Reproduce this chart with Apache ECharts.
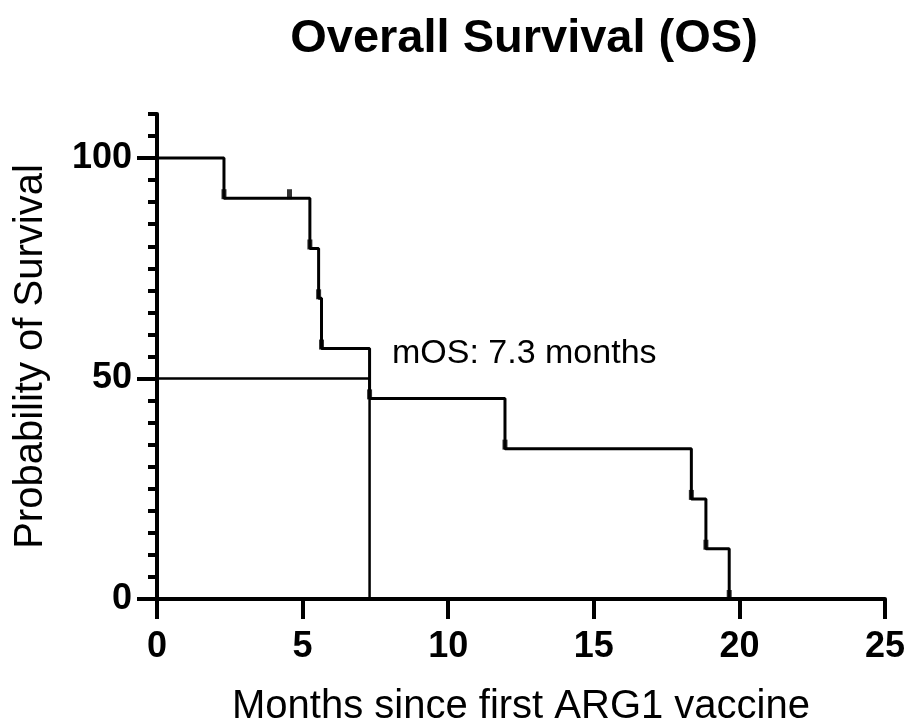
<!DOCTYPE html>
<html>
<head>
<meta charset="utf-8">
<title>Overall Survival (OS)</title>
<script src="https://cdn.jsdelivr.net/npm/echarts@6/dist/echarts.min.js"></script>
<style>
    html, body {
        margin: 0;
        padding: 0;
        background: #fff;
    }
    #chart {
        width: 912px;
        height: 726px;
    }
</style>
</head>
<body>
<div id="chart"></div>
<script>
// Kaplan-Meier steps (months, % surviving)
var stepMonths = [0, 2.3, 5.25, 5.55, 5.65, 7.3, 11.95, 18.35, 18.85, 19.65];
var stepSurvival = [100, 90.9, 79.5, 68.2, 56.8, 45.5, 34.1, 22.7, 11.4, 0];

// tick marks on the curve
var censorMonths = [2.3, 4.55, 5.25, 5.55, 5.65, 7.3, 11.95, 18.35, 18.85, 19.65];
var censorSurvival = [90.9, 90.9, 79.5, 68.2, 56.8, 45.5, 34.1, 22.7, 11.4, 0];

// median survival guide
var medianMonths = [0, 7.3, 7.3];
var medianSurvival = [50, 50, 0];

var xTicks = [0, 5, 10, 15, 20, 25];
var yMajorTicks = [0, 50, 100];

var font = "Liberation Sans, Arial, sans-serif";

function pairs(xs, ys) {
    return xs.map(function (x, i) {
        return [x, ys[i]];
    });
}

var chart = echarts.init(document.getElementById("chart"));

var option = {
    animation: false,
    title: {
        text: "Overall Survival (OS)",
        left: 519,
        top: 11,
        textAlign: "center",
        textStyle: {
            fontFamily: font,
            fontSize: 47,
            fontWeight: "bold",
            color: "#000",
        },
    },
    grid: {
        left: 157,
        right: 27,
        top: 114,
        bottom: 127,
        outerBoundsMode: "none",
    },
    xAxis: {
        type: "value",
        min: xTicks[0],
        max: xTicks[xTicks.length - 1],
        interval: 5,
        name: "Months since first ARG1 vaccine",
        nameLocation: "middle",
        nameGap: 88,
        nameTextStyle: {
            fontFamily: font,
            fontSize: 40,
            color: "#000",
        },
        axisLine: {
            lineStyle: { color: "#000", width: 4 },
        },
        axisTick: {
            length: 20,
            lineStyle: { color: "#000", width: 4 },
        },
        axisLabel: {
            margin: 30,
            fontFamily: font,
            fontSize: 36,
            fontWeight: "bold",
            color: "#000",
        },
        splitLine: { show: false },
    },
    yAxis: [
        {
            type: "value",
            min: 0,
            max: 110,
            interval: 5,
            name: "Probability of Survival",
            nameLocation: "middle",
            nameGap: 106,
            nameTextStyle: {
                fontFamily: font,
                fontSize: 40,
                color: "#000",
            },
            axisLine: {
                show: true,
                lineStyle: { color: "#000", width: 4 },
            },
            axisTick: {
                length: 9,
                lineStyle: { color: "#000", width: 4 },
            },
            axisLabel: {
                margin: 25,
                fontFamily: font,
                fontSize: 36,
                fontWeight: "bold",
                color: "#000",
                formatter: function (v) {
                    return yMajorTicks.indexOf(v) >= 0 ? String(v) : "";
                },
            },
            splitLine: { show: false },
        },
        {
            // longer ticks for the labelled values
            type: "value",
            min: 0,
            max: 110,
            position: "left",
            axisLine: { show: false },
            axisTick: {
                show: true,
                length: 20,
                customValues: yMajorTicks,
                lineStyle: { color: "#000", width: 4 },
            },
            axisLabel: { show: false },
            splitLine: { show: false },
        },
    ],
    graphic: [
        {
            type: "text",
            left: 392,
            top: 337,
            style: {
                text: "mOS: 7.3 months",
                fontFamily: font,
                fontSize: 34,
                fill: "#000",
            },
        },
    ],
    series: [
        {
            name: "median",
            type: "line",
            data: pairs(medianMonths, medianSurvival),
            symbol: "none",
            lineStyle: { color: "#000", width: 2.5 },
        },
        {
            name: "OS",
            type: "line",
            step: "end",
            data: pairs(stepMonths, stepSurvival),
            symbol: "none",
            lineStyle: { color: "#000", width: 3 },
        },
        {
            name: "censor",
            type: "scatter",
            data: pairs(censorMonths, censorSurvival),
            symbol: "rect",
            symbolSize: [5, 10],
            symbolOffset: [0, -4],
            itemStyle: { color: "#000" },
        },
    ],
};

chart.setOption(option);

window.addEventListener("resize", function () {
    chart.resize();
});
</script>
</body>
</html>
